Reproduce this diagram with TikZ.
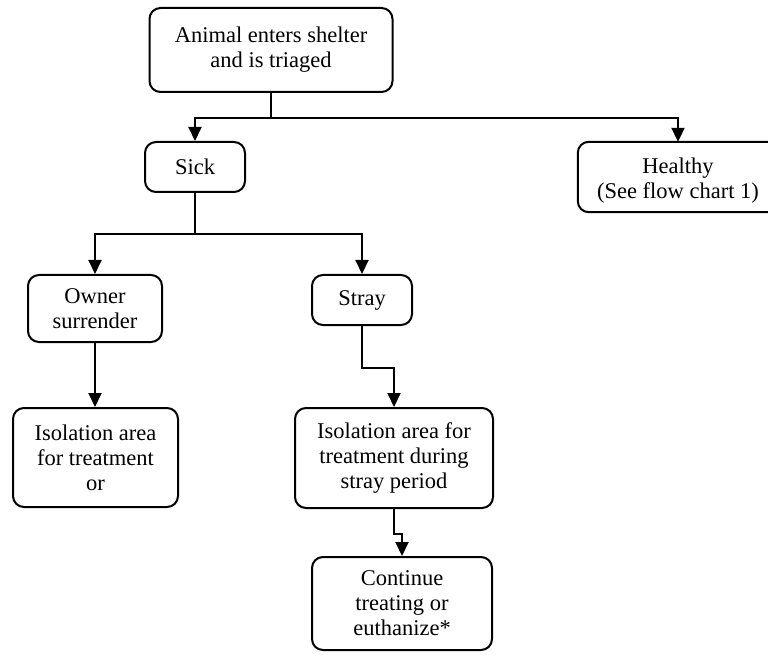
\documentclass[tikz,border=0pt]{standalone}
\usepackage{fontspec}
\setmainfont{Liberation Serif}
\usetikzlibrary{arrows.meta}
\begin{document}
\begin{tikzpicture}[x=1pt,y=-1pt,
  txt/.style={inner sep=0pt, align=center, font=\fontsize{22.5}{25}\selectfont},
  box/.style={txt, draw, line width=2pt, rounded corners=11pt},
  conn/.style={line width=2pt},
  arr/.style={line width=2pt, -{Triangle[length=14pt,width=13pt]}}]
\useasboundingbox (0,0) rectangle (768,660);
\clip (0,0) rectangle (768,660);
\fill[white] (0,0) rectangle (768,660);
\node[box, minimum width=243pt, minimum height=84pt] (top) at (271,50) {Animal enters shelter\\and is triaged};
\node[box, minimum width=100pt, minimum height=50pt] (sick) at (195,167) {Sick};
\node[txt, minimum width=220pt, minimum height=70pt] (healthy) at (688,177) {};
\node[txt] (healthytext) at (678,181) {Healthy\\(See flow chart 1)};
\draw[conn, rounded corners=11pt] (healthy.north east) -- (healthy.north west) -- (healthy.south west) -- (healthy.south east);
\node[box, minimum width=134pt, minimum height=67pt] (owner) at (95,308.5) {Owner\\surrender};
\node[box, minimum width=100pt, minimum height=50pt] (stray) at (362,300) {Stray};
\node[box, minimum width=165pt, minimum height=99pt] (iso1) at (95.5,457.5) {Isolation area\\for treatment\\or};
\node[box, minimum width=198pt, minimum height=100pt] (iso2) at (394,458) {Isolation area for\\treatment during\\stray period};
\node[box, minimum width=180pt, minimum height=93pt] (cont) at (402,603.5) {Continue\\treating or\\euthanize*};
% connectors
\draw[conn] (top.south) -- ++(0,25) coordinate (j1);
\draw[arr] (j1) -| (sick.north);
\draw[arr] (j1) -| (healthytext.north |- healthy.north);
\draw[conn] (sick.south) -- ++(0,41) coordinate (j2);
\draw[arr] (j2) -| (owner.north);
\draw[arr] (j2) -| (stray.north);
\draw[arr] (owner.south) -- (iso1.north -| owner.south);
\draw[arr] (stray.south) -- ++(0,42) -| (iso2.north);
\draw[arr] (iso2.south) -- ++(0,25) -| (cont.north);
\end{tikzpicture}
\end{document}
